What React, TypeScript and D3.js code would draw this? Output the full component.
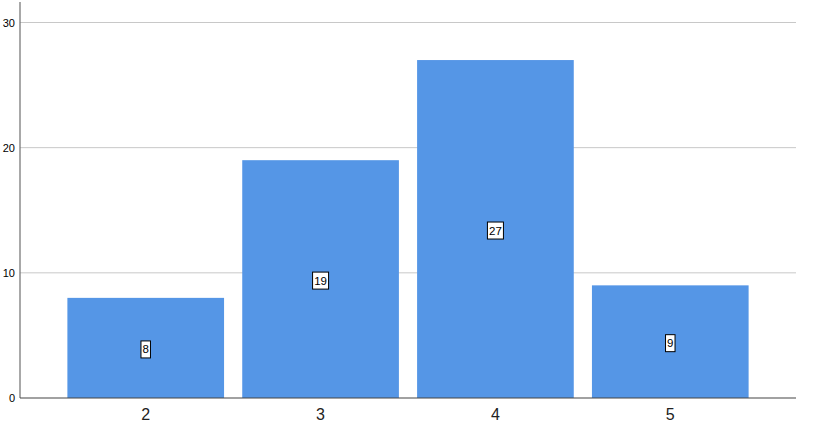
import React from "react";
import * as d3 from "d3";

const categories = ["2", "3", "4", "5"];
const counts = [8, 19, 27, 9];
const yTicks = [0, 10, 20, 30];

const W = 813;
const H = 433;
const left = 20;
const right = 796;
const bottom = 398;
const top = 22.5;

export default function App() {
  const x = d3
    .scaleBand<string>()
    .domain(categories)
    .range([left, right])
    .paddingInner(0.104)
    .paddingOuter(0.271);
  const y = d3.scaleLinear().domain([0, 30]).range([bottom, top]);
  const font = "Liberation Sans, Arial, sans-serif";
  return (
    <svg
      width={W}
      height={H}
      style={{ position: "absolute", left: 0, top: 0, background: "#fff" }}
    >
      {yTicks.map((t) =>
        t === 0 ? null : (
          <line
            key={"g" + t}
            x1={left}
            x2={right}
            y1={y(t)}
            y2={y(t)}
            stroke="#c8c8c8"
            strokeWidth={1}
          />
        )
      )}
      {categories.map((c, i) => (
        <rect
          key={c}
          x={x(c)}
          y={y(counts[i])}
          width={x.bandwidth()}
          height={bottom - y(counts[i])}
          fill="#5596e6"
        />
      ))}
      {categories.map((c, i) => {
        const cx = (x(c) as number) + x.bandwidth() / 2;
        const cy = (y(counts[i]) + bottom) / 2 + 1.5;
        const label = String(counts[i]);
        const w = label.length * 6.5 + 3;
        return (
          <g key={"l" + c}>
            <rect
              x={cx - w / 2}
              y={cy - 8.5}
              width={w}
              height={17}
              fill="#fff"
              stroke="#000"
              strokeWidth={1}
            />
            <text
              x={cx}
              y={cy + 4}
              textAnchor="middle"
              fontFamily={font}
              fontSize={11.5}
              fill="#000"
            >
              {label}
            </text>
          </g>
        );
      })}
      <line x1={left} x2={left} y1={2} y2={bottom} stroke="#6e6e6e" strokeWidth={1.2} />
      <line x1={left} x2={right} y1={bottom} y2={bottom} stroke="#444" strokeWidth={1.2} />
      {yTicks.map((t) => (
        <text
          key={"t" + t}
          x={15}
          y={y(t) + 4}
          textAnchor="end"
          fontFamily={font}
          fontSize={11}
          fill="#000"
        >
          {t}
        </text>
      ))}
      {categories.map((c) => (
        <text
          key={"x" + c}
          x={(x(c) as number) + x.bandwidth() / 2}
          y={420}
          textAnchor="middle"
          fontFamily={font}
          fontSize={16}
          fill="#222"
        >
          {c}
        </text>
      ))}
    </svg>
  );
}
